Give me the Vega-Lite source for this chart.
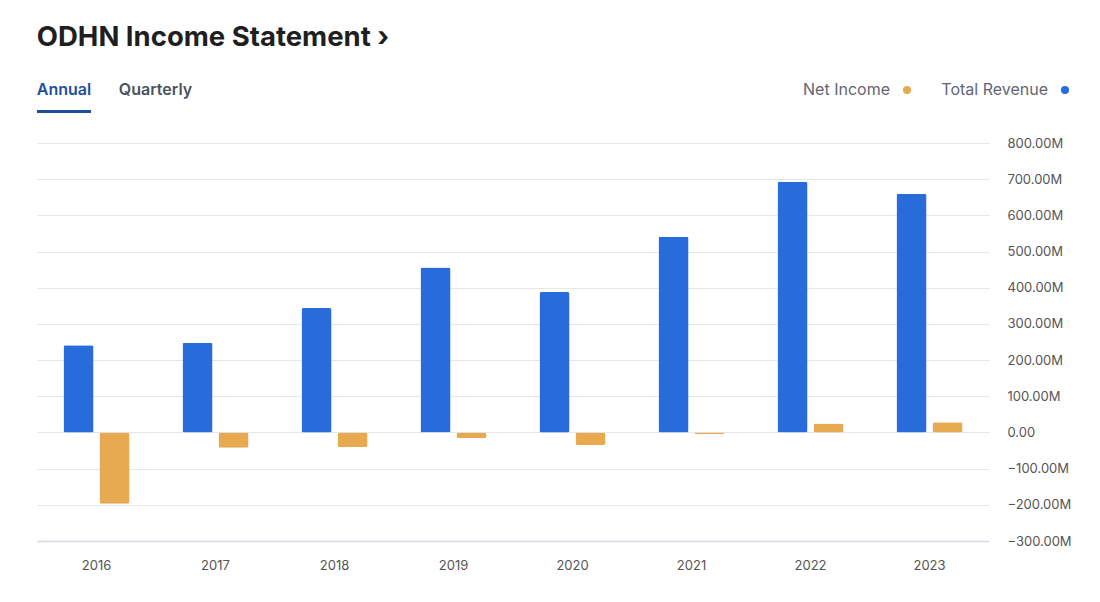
{
  "$schema": "https://vega.github.io/schema/vega-lite/v6.json",
  "padding": {"left": 36, "top": 23, "right": 0, "bottom": 0},
  "autosize": {"type": "pad"},
  "background": "white",
  "bounds": "flush",
  "spacing": 33,
  "title": {"text": "ODHN Income Statement  ›", "anchor": "start", "font": "Inter", "fontSize": 27.5, "fontWeight": 700, "color": "#1f1f1f", "offset": 19},
  "config": {"view": {"stroke": null}, "font": "Inter"},
  "vconcat": [
    {
      "width": 952,
      "height": 40,
      "data": {"values": [{"tab": "Annual", "selected": true}, {"tab": "Quarterly", "selected": false}]},
      "encoding": {"x": {"field": "tab", "type": "nominal", "scale": {"type": "point", "domain": ["Annual", "Quarterly"], "range": [27, 118.5], "padding": 0}, "axis": null}},
      "layer": [
        {
          "mark": {"type": "text", "font": "Inter", "fontSize": 16, "fontWeight": 600, "baseline": "middle", "align": "center"},
          "encoding": {"text": {"field": "tab"}, "color": {"condition": {"test": "datum.selected", "value": "#1e4f9e"}, "value": "#4b5261"}}
        },
        {
          "transform": [{"filter": "datum.selected"}],
          "mark": {"type": "tick", "orient": "horizontal", "size": 54, "thickness": 3, "color": "#1e4f9e", "yOffset": 21.5, "opacity": 1},
          "encoding": {}
        }
      ]
    },
    {
      "width": 952,
      "height": 398,
      "data": {"values": [
        {"year": "2016", "series": "Total Revenue", "value": 241},
        {"year": "2016", "series": "Net Income", "value": -197},
        {"year": "2017", "series": "Total Revenue", "value": 248},
        {"year": "2017", "series": "Net Income", "value": -42},
        {"year": "2018", "series": "Total Revenue", "value": 344},
        {"year": "2018", "series": "Net Income", "value": -41},
        {"year": "2019", "series": "Total Revenue", "value": 456},
        {"year": "2019", "series": "Net Income", "value": -16},
        {"year": "2020", "series": "Total Revenue", "value": 388},
        {"year": "2020", "series": "Net Income", "value": -35},
        {"year": "2021", "series": "Total Revenue", "value": 541},
        {"year": "2021", "series": "Net Income", "value": -5},
        {"year": "2022", "series": "Total Revenue", "value": 693},
        {"year": "2022", "series": "Net Income", "value": 25},
        {"year": "2023", "series": "Total Revenue", "value": 660},
        {"year": "2023", "series": "Net Income", "value": 28.5}
      ]},
      "mark": {"type": "bar", "cornerRadius": 2},
      "encoding": {
        "x": {"field": "year", "type": "ordinal", "scale": {"paddingInner": 0, "paddingOuter": 0},
          "axis": {"title": null, "labelAngle": 0, "ticks": false, "domain": true, "domainColor": "#d5d9e6", "domainWidth": 1.5, "labelPadding": 18, "labelFontSize": 13, "labelColor": "#555555", "labelFont": "Inter", "grid": false}},
        "xOffset": {"field": "series", "type": "nominal", "scale": {"domain": ["Total Revenue", "Net Income"], "paddingInner": 0.1667, "paddingOuter": 0.736}},
        "y": {"field": "value", "type": "quantitative", "scale": {"domain": [-300, 800], "nice": false, "zero": false},
          "axis": {"orient": "right", "title": null, "values": [-300, -200, -100, 0, 100, 200, 300, 400, 500, 600, 700, 800],
            "labelExpr": "datum.value === 0 ? '0.00' : format(datum.value, '.2f') + 'M'",
            "ticks": false, "domain": false, "labelPadding": 18, "gridColor": "#e6e6e6", "labelFontSize": 13, "labelColor": "#555555", "labelFont": "Inter"}},
        "color": {"field": "series", "type": "nominal", "scale": {"domain": ["Net Income", "Total Revenue"], "range": ["#e8aa50", "#286bdb"]},
          "legend": {"title": null, "orient": "none", "legendX": 862, "legendY": 12, "direction": "horizontal", "symbolType": "circle", "symbolSize": 64,
            "labelFont": "Inter", "labelFontSize": 16, "labelColor": "#5f6673", "labelAlign": "right", "labelOffset": -25, "columnPadding": 30, "symbolStrokeWidth": 0}}
      }
    }
  ]
}
